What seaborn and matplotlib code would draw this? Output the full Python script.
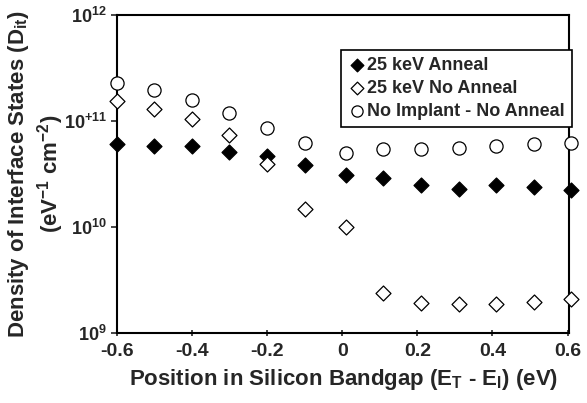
import matplotlib
matplotlib.use("Agg")
import matplotlib.pyplot as plt
import pandas as pd
import seaborn as sns

# position in bandgap (eV)
position = [-0.6, -0.5, -0.4, -0.3, -0.2, -0.1, 0.01, 0.11, 0.21, 0.31, 0.41, 0.51, 0.61]

# Dit values (eV^-1 cm^-2)
anneal_25kev = [6.1e10, 5.85e10, 5.8e10, 5.1e10, 4.7e10, 3.8e10, 3.1e10,
                2.9e10, 2.5e10, 2.27e10, 2.5e10, 2.37e10, 2.25e10]
no_anneal_25kev = [1.55e11, 1.29e11, 1.05e11, 7.3e10, 3.95e10, 1.47e10, 1.0e10,
                   2.37e9, 1.9e9, 1.86e9, 1.87e9, 1.97e9, 2.08e9]
no_implant = [2.3e11, 1.96e11, 1.58e11, 1.18e11, 8.5e10, 6.25e10, 5.0e10,
              5.45e10, 5.45e10, 5.5e10, 5.8e10, 6.07e10, 6.25e10]

series_names = ['25 keV Anneal', '25 keV No Anneal', 'No Implant - No Anneal']
ytick_vals = [1e9, 1e10, 1e11, 1e12]
ytick_lbls = [r'$\mathbf{10^{9}}$', r'$\mathbf{10^{10}}$', r'$\mathbf{10^{+11}}$', r'$\mathbf{10^{12}}$']
xtick_vals = [-0.6, -0.4, -0.2, 0, 0.2, 0.4, 0.6]
xtick_lbls = ['-0.6', '-0.4', '-0.2', '0', '0.2', '0.4', '0.6']

df = pd.DataFrame({'x': position * 3,
                   'y': anneal_25kev + no_anneal_25kev + no_implant,
                   'serie': [s for s in series_names for _ in position]})

sns.set_style("ticks")
plt.rcParams['font.family'] = ['Liberation Sans', 'DejaVu Sans']
plt.rcParams['font.weight'] = 'bold'
plt.rcParams['mathtext.fontset'] = 'custom'
plt.rcParams['mathtext.rm'] = 'Liberation Sans:bold'
plt.rcParams['mathtext.bf'] = 'Liberation Sans:bold'
plt.rcParams['mathtext.it'] = 'Liberation Sans:bold'

fig = plt.figure(figsize=(5.87, 4.03), dpi=100)
ax = fig.add_axes([0.199, 0.174, 0.771, 0.789])

styles = {
    '25 keV Anneal': dict(marker='D', facecolor='black', s=58),
    '25 keV No Anneal': dict(marker='D', facecolor='white', s=58),
    'No Implant - No Anneal': dict(marker='o', facecolor='white', s=90),
}
for name in series_names:
    st = styles[name]
    sub = df[df['serie'] == name]
    sns.scatterplot(data=sub, x='x', y='y', ax=ax, marker=st['marker'], s=st['s'],
                    facecolor=st['facecolor'], edgecolor='black', linewidth=0.9,
                    label=name, clip_on=False, zorder=3)

ax.set_yscale('log')
ax.set_ylim(1e9, 1e12)
ax.set_xlim(-0.6, 0.605)
ax.set_yticks(ytick_vals)
ax.set_yticklabels(ytick_lbls, fontsize=13)
ax.yaxis.set_minor_locator(matplotlib.ticker.NullLocator())
ax.set_xticks(xtick_vals)
ax.set_xticklabels(xtick_lbls, fontsize=14, fontweight='bold')
ax.tick_params(axis='y', direction='out', length=4, width=1.2, pad=3)
ax.tick_params(axis='x', direction='inout', length=5, width=1.2, pad=5)

for sp in ax.spines.values():
    sp.set_visible(True)
    sp.set_linewidth(1.5)
    sp.set_color('black')

ax.set_xlabel(r'Position in Silicon Bandgap (E$_\mathregular{T}$ - E$_\mathregular{I}$) (eV)',
              fontsize=16, fontweight='bold', labelpad=5)
ax.set_ylabel('Density of Interface States (D$_\\mathregular{it}$)\n'
              '(eV$^\\mathregular{-1}$ cm$^\\mathregular{-2}$)',
              fontsize=16, fontweight='bold', linespacing=1.15)
ax.yaxis.set_label_coords(-0.113, 0.5)

leg = ax.legend(loc='upper right', bbox_to_anchor=(1.005, 0.89), fontsize=13,
                frameon=True, fancybox=False, framealpha=1, edgecolor='black',
                handletextpad=0.05, handlelength=1.0, borderpad=0.4,
                labelspacing=0.32, borderaxespad=0, markerscale=0.85)
leg.get_frame().set_linewidth(1.2)
for t in leg.get_texts():
    t.set_fontweight('bold')

plt.savefig("out.png", dpi=100)
